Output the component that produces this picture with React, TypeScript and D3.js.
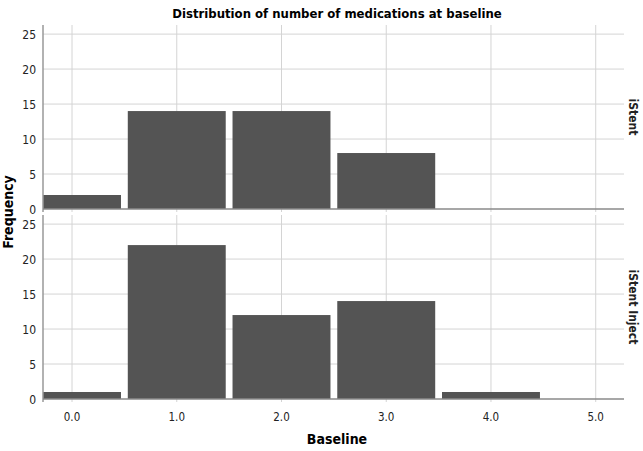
import React from "react";
import * as d3 from "d3";

const categories = [0, 1, 2, 3, 4, 5];
const iStentCounts = [2, 14, 14, 8, 0, 0];
const injectCounts = [1, 22, 12, 14, 1, 0];
const panelNames = ["iStent", "iStent Inject"];
const yTicks = [0, 5, 10, 15, 20, 25];

const W = 643;
const H = 451;
const left = 43;
const right = 624;
const panels = [
  { top: 25, bottom: 209, counts: iStentCounts, name: panelNames[0] },
  { top: 215, bottom: 399, counts: injectCounts, name: panelNames[1] },
];

const font = "'DejaVu Sans Condensed', 'DejaVu Sans', sans-serif";
const barColor = "#545454";
const gridColor = "#d4d4d4";

const x = d3.scaleLinear().domain([-0.277, 5.27]).range([left, right]);
const gap = 3.4;

const App = () => {
  return (
    <svg width={W} height={H} style={{ position: "absolute", left: 0, top: 0 }}>
      <rect width={W} height={H} fill="#fff" />
      <text x={337} y={18} textAnchor="middle" fontFamily={font} fontWeight="bold" fontSize={13}>
        Distribution of number of medications at baseline
      </text>
      {panels.map((p, pi) => {
        const y = d3.scaleLinear().domain([0, 26.3]).range([p.bottom, p.top]);
        return (
          <g key={pi}>
            {categories.map((c) => (
              <line key={"v" + c} x1={x(c)} x2={x(c)} y1={p.top} y2={p.bottom + 3} stroke={gridColor} strokeWidth={1} />
            ))}
            {yTicks.map((t) => (
              <g key={"h" + t}>
                {t > 0 && (
                  <line x1={left} x2={right} y1={y(t)} y2={y(t)} stroke={gridColor} strokeWidth={1} />
                )}
                <text x={36} y={y(t) + 4.5} textAnchor="end" fontFamily={font} fontSize={12} fill="#222">
                  {t}
                </text>
              </g>
            ))}
            {categories.map((c, i) => {
              const x0 = Math.max(left, x(c - 0.5) + gap);
              const x1 = x(c + 0.5) - gap;
              const v = p.counts[i];
              if (v <= 0) return null;
              return (
                <rect key={"b" + c} x={x0} y={y(v)} width={x1 - x0} height={y(0) - y(v)} fill={barColor} />
              );
            })}
            <line x1={left} x2={left} y1={p.top} y2={p.bottom + 3} stroke="#999" strokeWidth={1.5} />
            <line x1={left} x2={right} y1={y(0)} y2={y(0)} stroke="#8a8a8a" strokeWidth={1.5} />
            <text
              transform={`translate(629,${(p.top + p.bottom) / 2}) rotate(90)`}
              textAnchor="middle"
              fontFamily={font}
              fontWeight="bold"
              fontSize={12}
              fill="#222"
            >
              {p.name}
            </text>
          </g>
        );
      })}
      {categories.map((c) => (
        <text key={"xl" + c} x={x(c)} y={421} textAnchor="middle" fontFamily={font} fontSize={11.5} fill="#222">
          {c.toFixed(1)}
        </text>
      ))}
      <text x={337} y={444} textAnchor="middle" fontFamily={font} fontWeight="bold" fontSize={14}>
        Baseline
      </text>
      <text
        transform="translate(13,212) rotate(-90)"
        textAnchor="middle"
        fontFamily={font}
        fontWeight="bold"
        fontSize={14}
      >
        Frequency
      </text>
    </svg>
  );
};

export default App;
